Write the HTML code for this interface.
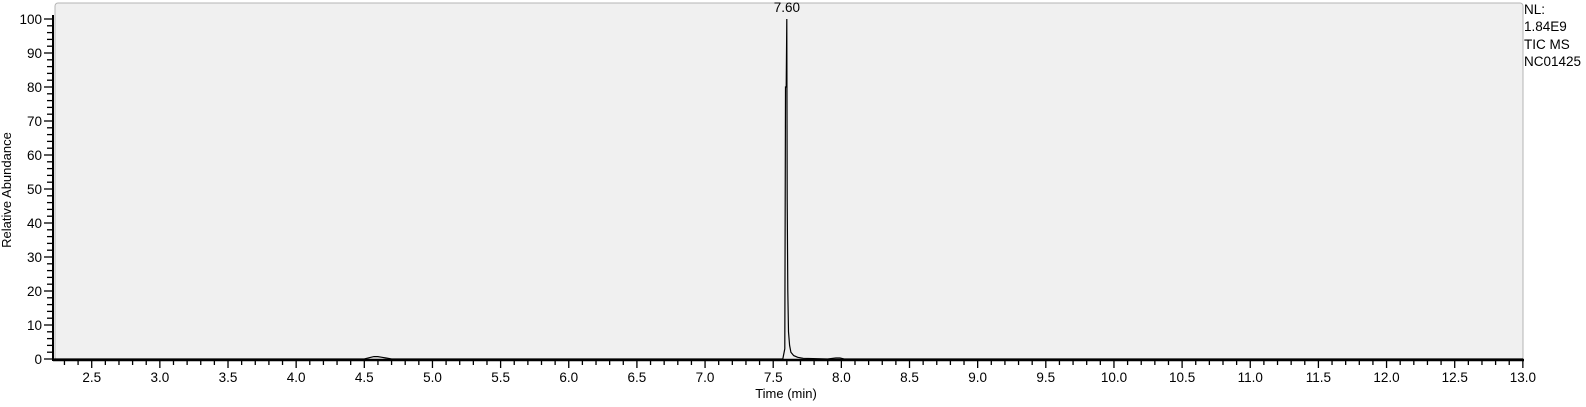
<!DOCTYPE html>
<html><head><meta charset="utf-8"><style>
html,body{margin:0;padding:0;background:#fff;}
svg{display:block;font-family:"Liberation Sans",Arial,sans-serif;}
</style></head><body>
<svg id="chart" width="1586" height="407" viewBox="0 0 1586 407">
  <rect x="55" y="3" width="1468" height="357" rx="3" fill="#f0f0f0" stroke="#b4b4b4" stroke-width="1"/>
  <g id="yaxis"></g>
  <g id="xaxis"></g>
  <g id="series"></g>
  <text x="11" y="190" transform="rotate(-90 11 190)" text-anchor="middle" font-size="13" fill="#000">Relative Abundance</text>
  <text x="786" y="398" text-anchor="middle" font-size="13" fill="#000">Time (min)</text>
  <g font-size="13.5" fill="#000">
    <text x="1524" y="14">NL:</text>
    <text x="1524" y="31">1.84E9</text>
    <text x="1524" y="49">TIC  MS</text>
    <text x="1524" y="66">NC01425</text>
  </g>
</svg>
<script>
const times = [2.22,4.5,4.54,4.57,4.6,4.63,4.66,4.7,7.57,7.585,7.59,7.595,7.6,7.603,7.607,7.612,7.62,7.63,7.65,7.68,7.72,7.9,7.96,7.99,8.02,13.0];
const intensities = [0,0,0.4,0.7,0.7,0.5,0.3,0,0,3,80,80,100,47,20,8,4,2,1,0.5,0.2,0,0.3,0.3,0,0];
const peakLabels = ["7.60"];
const peakTimes = [7.60];
const peakValues = [100];
const yTicks = [0,10,20,30,40,50,60,70,80,90,100];
const xTickLabels = ["2.5","3.0","3.5","4.0","4.5","5.0","5.5","6.0","6.5","7.0","7.5","8.0","8.5","9.0","9.5","10.0","10.5","11.0","11.5","12.0","12.5","13.0"];

const NS="http://www.w3.org/2000/svg";
const X0=53, T0=2.216, PX=136.3, Y0=359, PY=3.4;
function xs(t){return X0+(t-T0)*PX;}
function ys(v){return Y0-v*PY;}
function mk(tag,attrs,parent){const e=document.createElementNS(NS,tag);for(const k in attrs)e.setAttribute(k,attrs[k]);parent.appendChild(e);return e;}

const ya=document.getElementById('yaxis');
mk('line',{x1:53,y1:15,x2:53,y2:361,stroke:'#000','stroke-width':2},ya);
for(let v=0;v<=100;v+=2){
  const major=v%10===0;
  mk('line',{x1:major?44:47,y1:ys(v),x2:53,y2:ys(v),stroke:'#000','stroke-width':1.3},ya);
}
yTicks.forEach(v=>{
  const t=mk('text',{x:42,y:ys(v)+5,'text-anchor':'end','font-size':13.5},ya);
  t.textContent=v;
  
  
});

const xa=document.getElementById('xaxis');
mk('line',{x1:53,y1:360,x2:1524,y2:360,stroke:'#000','stroke-width':2.5},xa);
for(let i=23;i<=130;i++){
  const t=i/10; const major=i%5===0;
  mk('line',{x1:xs(t),y1:360,x2:xs(t),y2:major?368:365,stroke:'#000','stroke-width':1.3},xa);
}
xTickLabels.forEach(s=>{
  const t=mk('text',{x:xs(parseFloat(s)),y:382,'text-anchor':'middle','font-size':13.5},xa);
  t.textContent=s;
  
  
});

const sg=document.getElementById('series');
const pts=times.map((t,i)=>xs(t).toFixed(1)+','+ys(intensities[i]).toFixed(1)).join(' ');
const pl=mk('polyline',{points:pts,fill:'none',stroke:'#000','stroke-width':1.2},sg);


peakLabels.forEach((s,i)=>{
  const t=mk('text',{x:xs(peakTimes[i]),y:ys(peakValues[i])-7,'text-anchor':'middle','font-size':13.5},sg);
  t.textContent=s;
  
  
});
</script>
</body></html>
